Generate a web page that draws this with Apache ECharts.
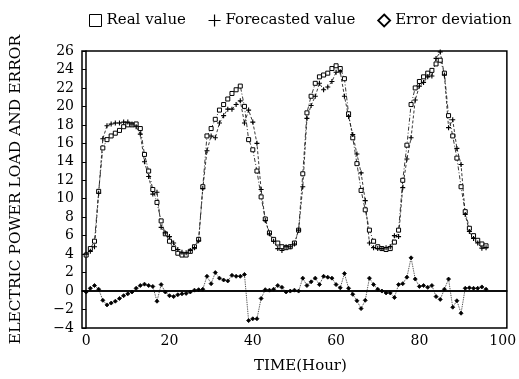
<!DOCTYPE html>
<html>
<head>
<meta charset="utf-8">
<script src="https://cdn.jsdelivr.net/npm/echarts@6/dist/echarts.min.js"></script>
<style>
  html, body { margin: 0; padding: 0; background: #fff; }
  #chart { width: 519px; height: 379px; }
</style>
</head>
<body>
<div id="chart"></div>
<script>
// hourly samples, 0..96 h
const hours = Array.from({ length: 97 }, (_, i) => i);

const realValue = [
  3.9, 4.6, 5.4, 10.8, 15.5, 16.4, 16.8, 17.1, 17.4, 17.8,
  18.0, 18.0, 18.1, 17.6, 14.8, 13.0, 11.0, 9.6, 7.6, 6.2,
  5.4, 4.6, 4.1, 3.9, 3.9, 4.3, 4.8, 5.6, 11.3, 16.8,
  17.6, 18.6, 19.6, 20.2, 20.8, 21.4, 21.8, 22.2, 20.0, 16.4,
  15.3, 13.0, 10.2, 7.8, 6.3, 5.6, 5.2, 4.8, 4.7, 4.8,
  5.2, 6.6, 12.7, 19.3, 21.1, 22.5, 23.2, 23.4, 23.6, 24.1,
  24.4, 24.1, 23.0, 19.2, 16.6, 13.8, 10.9, 8.8, 6.6, 5.4,
  4.8, 4.6, 4.5, 4.6, 5.3, 6.6, 12.0, 15.8, 20.2, 22.0,
  22.7, 23.2, 23.6, 23.9, 24.6, 25.0, 23.6, 19.0, 16.8, 14.4,
  11.3, 8.6, 6.8, 6.0, 5.5, 5.1, 4.9
];

const forecastValue = [
  4.0, 4.3, 4.8, 10.6, 16.5, 17.9, 18.1, 18.2, 18.2, 18.3,
  18.3, 18.1, 17.8, 17.0, 14.0, 12.4, 10.5, 10.7, 6.9, 6.3,
  5.9, 5.2, 4.5, 4.2, 4.15, 4.4, 4.7, 5.45, 11.1, 15.2,
  16.8, 16.6, 18.2, 19.0, 19.7, 19.7, 20.2, 20.6, 18.2, 19.6,
  18.3, 16.0, 11.0, 7.65, 6.2, 5.4, 4.6, 4.4, 4.8, 4.8,
  5.1, 6.6, 11.3, 18.7, 20.1, 21.1, 22.5, 21.8, 22.1, 22.7,
  23.7, 23.75, 21.1, 18.9, 16.95, 14.85, 12.8, 9.8, 5.2, 4.7,
  4.6, 4.6, 4.7, 4.8, 6.0, 5.9, 11.2, 14.3, 16.6, 20.7,
  22.2, 22.6, 23.2, 23.3, 25.2, 25.9, 23.4, 17.7, 18.55, 15.45,
  13.7, 8.3, 6.45, 5.7, 5.2, 4.65, 4.7
];

const errorDeviation = [
  -0.1, 0.3, 0.6, 0.2, -1.0, -1.5, -1.3, -1.1, -0.8, -0.5,
  -0.3, -0.1, 0.3, 0.6, 0.75, 0.6, 0.5, -1.1, 0.7, -0.1,
  -0.5, -0.6, -0.4, -0.3, -0.25, -0.1, 0.1, 0.15, 0.2, 1.6,
  0.8, 2.0, 1.4, 1.2, 1.1, 1.7, 1.6, 1.6, 1.8, -3.2,
  -3.0, -3.0, -0.8, 0.15, 0.1, 0.2, 0.6, 0.4, -0.1, 0.0,
  0.1, 0.0, 1.4, 0.6, 1.0, 1.4, 0.7, 1.6, 1.5, 1.4,
  0.7, 0.35, 1.9, 0.3, -0.35, -1.05, -1.9, -1.0, 1.4, 0.7,
  0.2, 0.0, -0.2, -0.2, -0.7, 0.7, 0.8, 1.5, 3.6, 1.3,
  0.5, 0.6, 0.4, 0.6, -0.6, -0.9, 0.2, 1.3, -1.75, -1.05,
  -2.4, 0.3, 0.35, 0.3, 0.3, 0.45, 0.2
];

const xTicks = [0, 20, 40, 60, 80, 100];
const seriesNames = ['Real value', 'Forecasted value', 'Error deviation'];

const serif = 'DejaVu Serif';
const plusPath = 'path://M5,0L5,10M0,5L10,5';

const pairs = (ys) => hours.map((h, i) => [h, ys[i]]);

const chart = echarts.init(document.getElementById('chart'));
chart.setOption({
  animation: false,
  backgroundColor: '#fff',
  textStyle: { fontFamily: serif, color: '#000' },
  legend: {
    left: 84,
    top: 8,
    itemWidth: 12,
    itemHeight: 12,
    itemGap: 22,
    textStyle: { fontFamily: serif, fontSize: 15, color: '#000' },
    data: [
      { name: seriesNames[0], icon: 'rect', itemStyle: { color: 'transparent', borderColor: '#000', borderWidth: 1 } },
      { name: seriesNames[1], icon: plusPath, itemStyle: { color: 'transparent', borderColor: '#000', borderWidth: 1.2 } },
      { name: seriesNames[2], icon: 'diamond', itemStyle: { color: 'transparent', borderColor: '#000', borderWidth: 1.8 } }
    ]
  },
  grid: {
    left: 75,
    right: 10,
    top: 51,
    bottom: 40,
    show: true,
    borderColor: '#000',
    borderWidth: 1.5
  },
  xAxis: {
    type: 'value',
    min: -1,
    max: 101,
    name: 'TIME(Hour)',
    nameLocation: 'middle',
    nameGap: 31,
    nameTextStyle: { fontFamily: serif, fontSize: 15, color: '#000', padding: [0, 0, 0, 12] },
    axisLine: { lineStyle: { color: '#000', width: 1.5 } },
    axisTick: { show: false },
    splitLine: { show: false },
    axisLabel: {
      customValues: xTicks,
      margin: 6,
      fontFamily: serif,
      fontSize: 14,
      color: '#000'
    }
  },
  yAxis: {
    type: 'value',
    min: -4,
    max: 26,
    interval: 2,
    name: 'ELECTRIC POWER LOAD AND ERROR',
    nameLocation: 'middle',
    nameGap: 58,
    nameRotate: 90,
    nameTextStyle: { fontFamily: serif, fontSize: 15.5, color: '#000' },
    axisLine: { show: true, lineStyle: { color: '#000', width: 1.5 } },
    axisTick: { show: true, length: 4, lineStyle: { color: '#000' } },
    splitLine: { show: false },
    axisLabel: {
      margin: 8,
      fontFamily: serif,
      fontSize: 14,
      color: '#000',
      formatter: (v) => (v < 0 ? '\u2212' + Math.abs(v) : String(v))
    }
  },
  series: [
    {
      name: seriesNames[0],
      type: 'line',
      data: pairs(realValue),
      symbol: 'rect',
      symbolSize: 4,
      lineStyle: { color: '#222', width: 0.9, type: [4, 2, 1, 2] },
      itemStyle: { color: '#fff', borderColor: '#000', borderWidth: 1 }
    },
    {
      name: seriesNames[1],
      type: 'line',
      data: pairs(forecastValue),
      symbol: plusPath,
      symbolSize: 5,
      lineStyle: { color: '#222', width: 0.9, type: [3, 2] },
      itemStyle: { color: '#000', borderColor: '#000', borderWidth: 1.1 }
    },
    {
      name: seriesNames[2],
      type: 'line',
      data: pairs(errorDeviation),
      symbol: 'diamond',
      symbolSize: 4,
      lineStyle: { color: '#222', width: 0.9, type: 'dotted' },
      itemStyle: { color: '#000', borderColor: '#000', borderWidth: 0.8 },
      markLine: {
        silent: true,
        symbol: 'none',
        label: { show: false },
        lineStyle: { color: '#000', width: 1.5, type: 'solid' },
        data: [{ yAxis: 0 }]
      }
    }
  ]
});
</script>
</body>
</html>
